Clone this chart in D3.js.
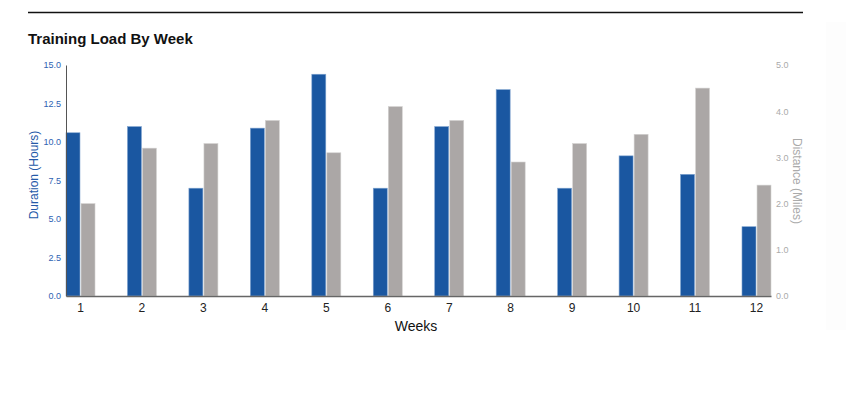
<!DOCTYPE html>
<html>
<head>
<meta charset="utf-8">
<script src="https://cdn.jsdelivr.net/npm/d3@7"></script>
<style>
  html, body { margin: 0; padding: 0; background: #fff; }
  svg { display: block; font-family: "Liberation Sans", Arial, Helvetica, sans-serif; }
</style>
</head>
<body>
<svg id="chart" width="846" height="393"></svg>
<script>
const weeks = ["1","2","3","4","5","6","7","8","9","10","11","12"];
const durationHours = [10.6, 11.0, 7.0, 10.9, 14.4, 7.0, 11.0, 13.4, 7.0, 9.1, 7.9, 4.5];
const distanceMiles = [2.0, 3.2, 3.3, 3.8, 3.1, 4.1, 3.8, 2.9, 3.3, 3.5, 4.5, 2.4];
const leftTicks = [0, 2.5, 5, 7.5, 10, 12.5, 15];
const rightTicks = [0, 1, 2, 3, 4, 5];
const seriesKeys = ["hours", "miles"];

(function () {
const svg = d3.select("#chart");
const pLeft = 66, pRight = 771, pTop = 65, pBottom = 296;

// faint right-edge strip
svg.append("rect").attr("x", 826).attr("y", 22).attr("width", 20).attr("height", 308)
  .attr("fill", "#fdfdfd");

// top rule
svg.append("line").attr("x1", 28).attr("x2", 803).attr("y1", 12.5).attr("y2", 12.5)
  .attr("stroke", "#111").attr("stroke-width", 1.3);

svg.append("text").attr("x", 28).attr("y", 44)
  .attr("font-size", 15).attr("font-weight", "bold").attr("fill", "#111")
  .text("Training Load By Week");

const x = d3.scaleBand().domain(weeks).range([pLeft, pRight]).paddingInner(0.528).paddingOuter(0);
const xs = d3.scaleBand().domain(seriesKeys).range([0, x.bandwidth()]).paddingInner(0.07);
const yL = d3.scaleLinear().domain([0, 15]).range([pBottom, pTop]);
const yR = d3.scaleLinear().domain([0, 5]).range([pBottom, pTop]);

const blue = "#1a57a1", gray = "#aba7a6";

const g = svg.append("g");
weeks.forEach((w, i) => {
  g.append("rect")
    .attr("x", x(w) + xs("hours"))
    .attr("y", yL(durationHours[i]))
    .attr("width", xs.bandwidth())
    .attr("height", pBottom - yL(durationHours[i]))
    .attr("fill", blue)
    .attr("stroke", "#7fa3cf").attr("stroke-width", 0.6);
  g.append("rect")
    .attr("x", x(w) + xs("miles"))
    .attr("y", yR(distanceMiles[i]))
    .attr("width", xs.bandwidth())
    .attr("height", pBottom - yR(distanceMiles[i]))
    .attr("fill", gray)
    .attr("stroke", "#d4d2d1").attr("stroke-width", 0.6);
});

// left axis
const la = svg.append("g").attr("transform", `translate(${pLeft},0)`)
  .call(d3.axisLeft(yL).tickValues(leftTicks).tickFormat(d3.format(".1f")).tickSize(0).tickPadding(5));
la.select(".domain").attr("stroke", "#555").attr("stroke-width", 1);
la.selectAll("text").attr("font-size", 9).attr("fill", "#2d62b3").attr("font-family", "Liberation Sans, Arial, sans-serif");

// right axis
const ra = svg.append("g").attr("transform", `translate(${pRight},0)`)
  .call(d3.axisRight(yR).tickValues(rightTicks).tickFormat(d3.format(".1f")).tickSize(0).tickPadding(5));
ra.select(".domain").remove();
ra.selectAll("text").attr("font-size", 9).attr("fill", "#aaa").attr("font-family", "Liberation Sans, Arial, sans-serif");

// bottom axis
const ba = svg.append("g").attr("transform", `translate(0,${pBottom})`)
  .call(d3.axisBottom(x).tickSize(0).tickPadding(7));
ba.select(".domain").attr("stroke", "#666").attr("stroke-width", 1.3);
ba.selectAll("text").attr("font-size", 12).attr("fill", "#222").attr("font-family", "Liberation Sans, Arial, sans-serif");

// axis titles
svg.append("text").attr("transform", "translate(38,175) rotate(-90)")
  .attr("text-anchor", "middle").attr("font-size", 12).attr("fill", "#2459a8")
  .text("Duration (Hours)");
svg.append("text").attr("transform", "translate(793,181) rotate(90)")
  .attr("text-anchor", "middle").attr("font-size", 12).attr("fill", "#aaa")
  .text("Distance (Miles)");
svg.append("text").attr("x", 416).attr("y", 331)
  .attr("text-anchor", "middle").attr("font-size", 14).attr("fill", "#111")
  .text("Weeks");
})();
</script>
</body>
</html>
